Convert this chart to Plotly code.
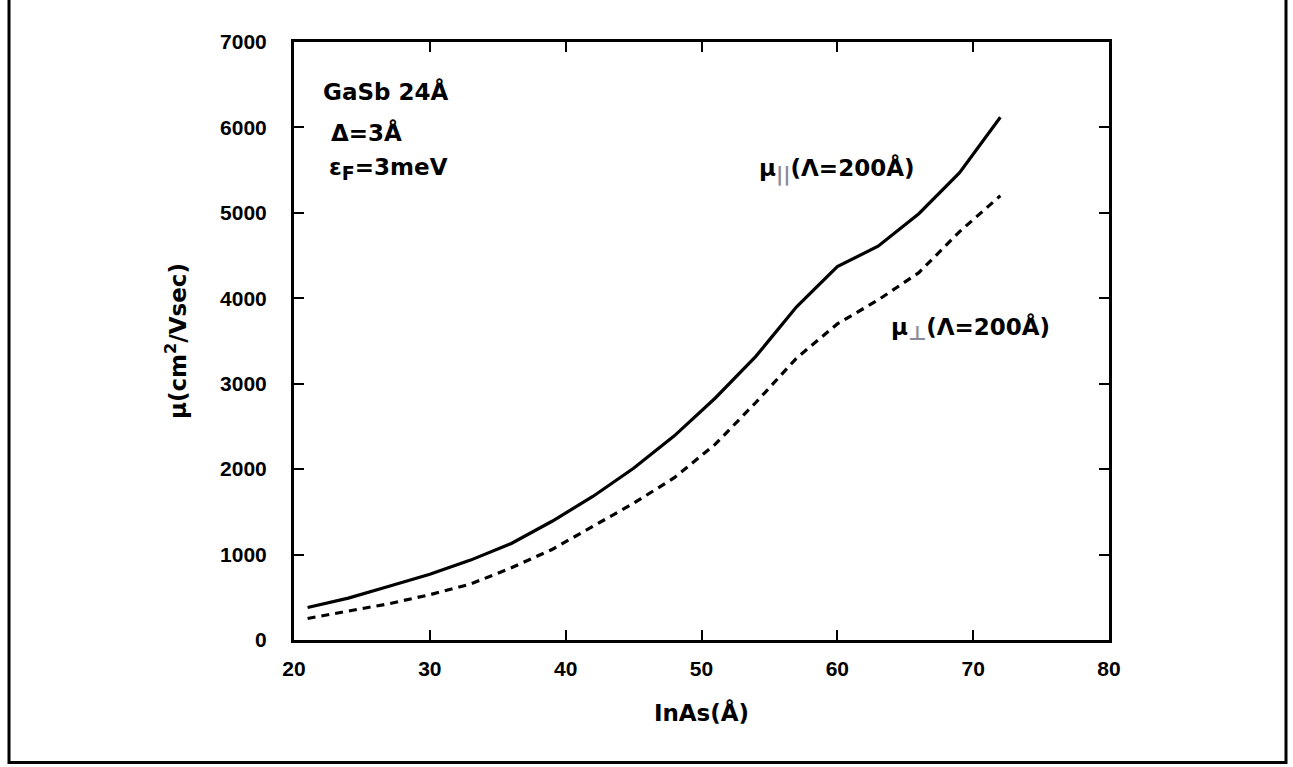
import plotly.graph_objects as go

inas = [21, 24, 27, 30, 33, 36, 39, 42, 45, 48, 51, 54, 57, 60, 63, 66, 69, 72]
mu_par = [380, 490, 630, 770, 935, 1130, 1390, 1680, 2010, 2390, 2830, 3320, 3900, 4370, 4610, 4990, 5470, 6120]
mu_perp = [252, 335, 425, 530, 655, 845, 1060, 1330, 1600, 1900, 2290, 2780, 3300, 3700, 3980, 4300, 4780, 5200]

xticks = [20, 30, 40, 50, 60, 70, 80]
yticks = [0, 1000, 2000, 3000, 4000, 5000, 6000, 7000]

ann_font = dict(family="DejaVu Sans", size=23, color="black", weight="bold")
tick_font = dict(family="Liberation Sans", size=21, color="black", weight="bold")
title_font = dict(family="DejaVu Sans", size=23, color="black", weight="bold")

fig = go.Figure()
fig.add_trace(go.Scatter(x=inas, y=mu_par, mode="lines",
                         line=dict(color="black", width=3.2, dash="solid"),
                         showlegend=False))
fig.add_trace(go.Scatter(x=inas, y=mu_perp, mode="lines",
                         line=dict(color="black", width=3.2, dash="8px,6px"),
                         showlegend=False))

axis_common = dict(showline=True, linecolor="black", linewidth=3, mirror="ticks",
                   ticks="inside", ticklen=10, tickwidth=2, tickcolor="black",
                   showgrid=False, zeroline=False, tickfont=tick_font)

fig.update_xaxes(range=[20, 80], tickvals=xticks, ticktext=[str(v) for v in xticks],
                 ticklabelstandoff=8,
                 title=dict(text="InAs(Å)", font=title_font, standoff=26), **axis_common)
fig.update_yaxes(range=[0, 7000], tickvals=yticks, ticktext=[str(v) for v in yticks],
                 ticklabelstandoff=20,
                 title=dict(text="μ(cm<sup>2</sup>/Vsec)", font=title_font, standoff=28), **axis_common)

gray = "#8a8a98"
annots = [
    (22.0, 6415, "GaSb 24Å"),
    (22.6, 5945, "Δ=3Å"),
    (22.4, 5510, "ε<sub><span style='font-size:19px'>F</span></sub>=3meV"),
    (54.1, 5500, f"μ<sub><span style='color:{gray};font-size:20px'>||</span></sub>(Λ=200Å)"),
    (63.8, 3640, f"μ<sub><span style='color:{gray};font-size:20px'>⊥</span></sub>(Λ=200Å)"),
]
for x, y, t in annots:
    fig.add_annotation(x=x, y=y, text=t, showarrow=False, xanchor="left", yanchor="middle",
                       font=ann_font)

# outer frame of the figure
L, R, T, B = 294, 1109, 42, 640.5
W, H = R - L, B - T
def px(x):
    return (x - L) / W
def py(y):
    return (B - y) / H
fig.add_shape(type="rect", xref="paper", yref="paper",
              x0=px(9), x1=px(1286), y0=py(763), y1=py(-10),
              line=dict(color="black", width=3), fillcolor="rgba(0,0,0,0)", layer="below")

fig.update_layout(width=1293, height=767, autosize=False,
                  margin=dict(l=L, r=1293 - R, t=T, b=767 - B),
                  paper_bgcolor="white", plot_bgcolor="white")

fig.write_html("out.html")
